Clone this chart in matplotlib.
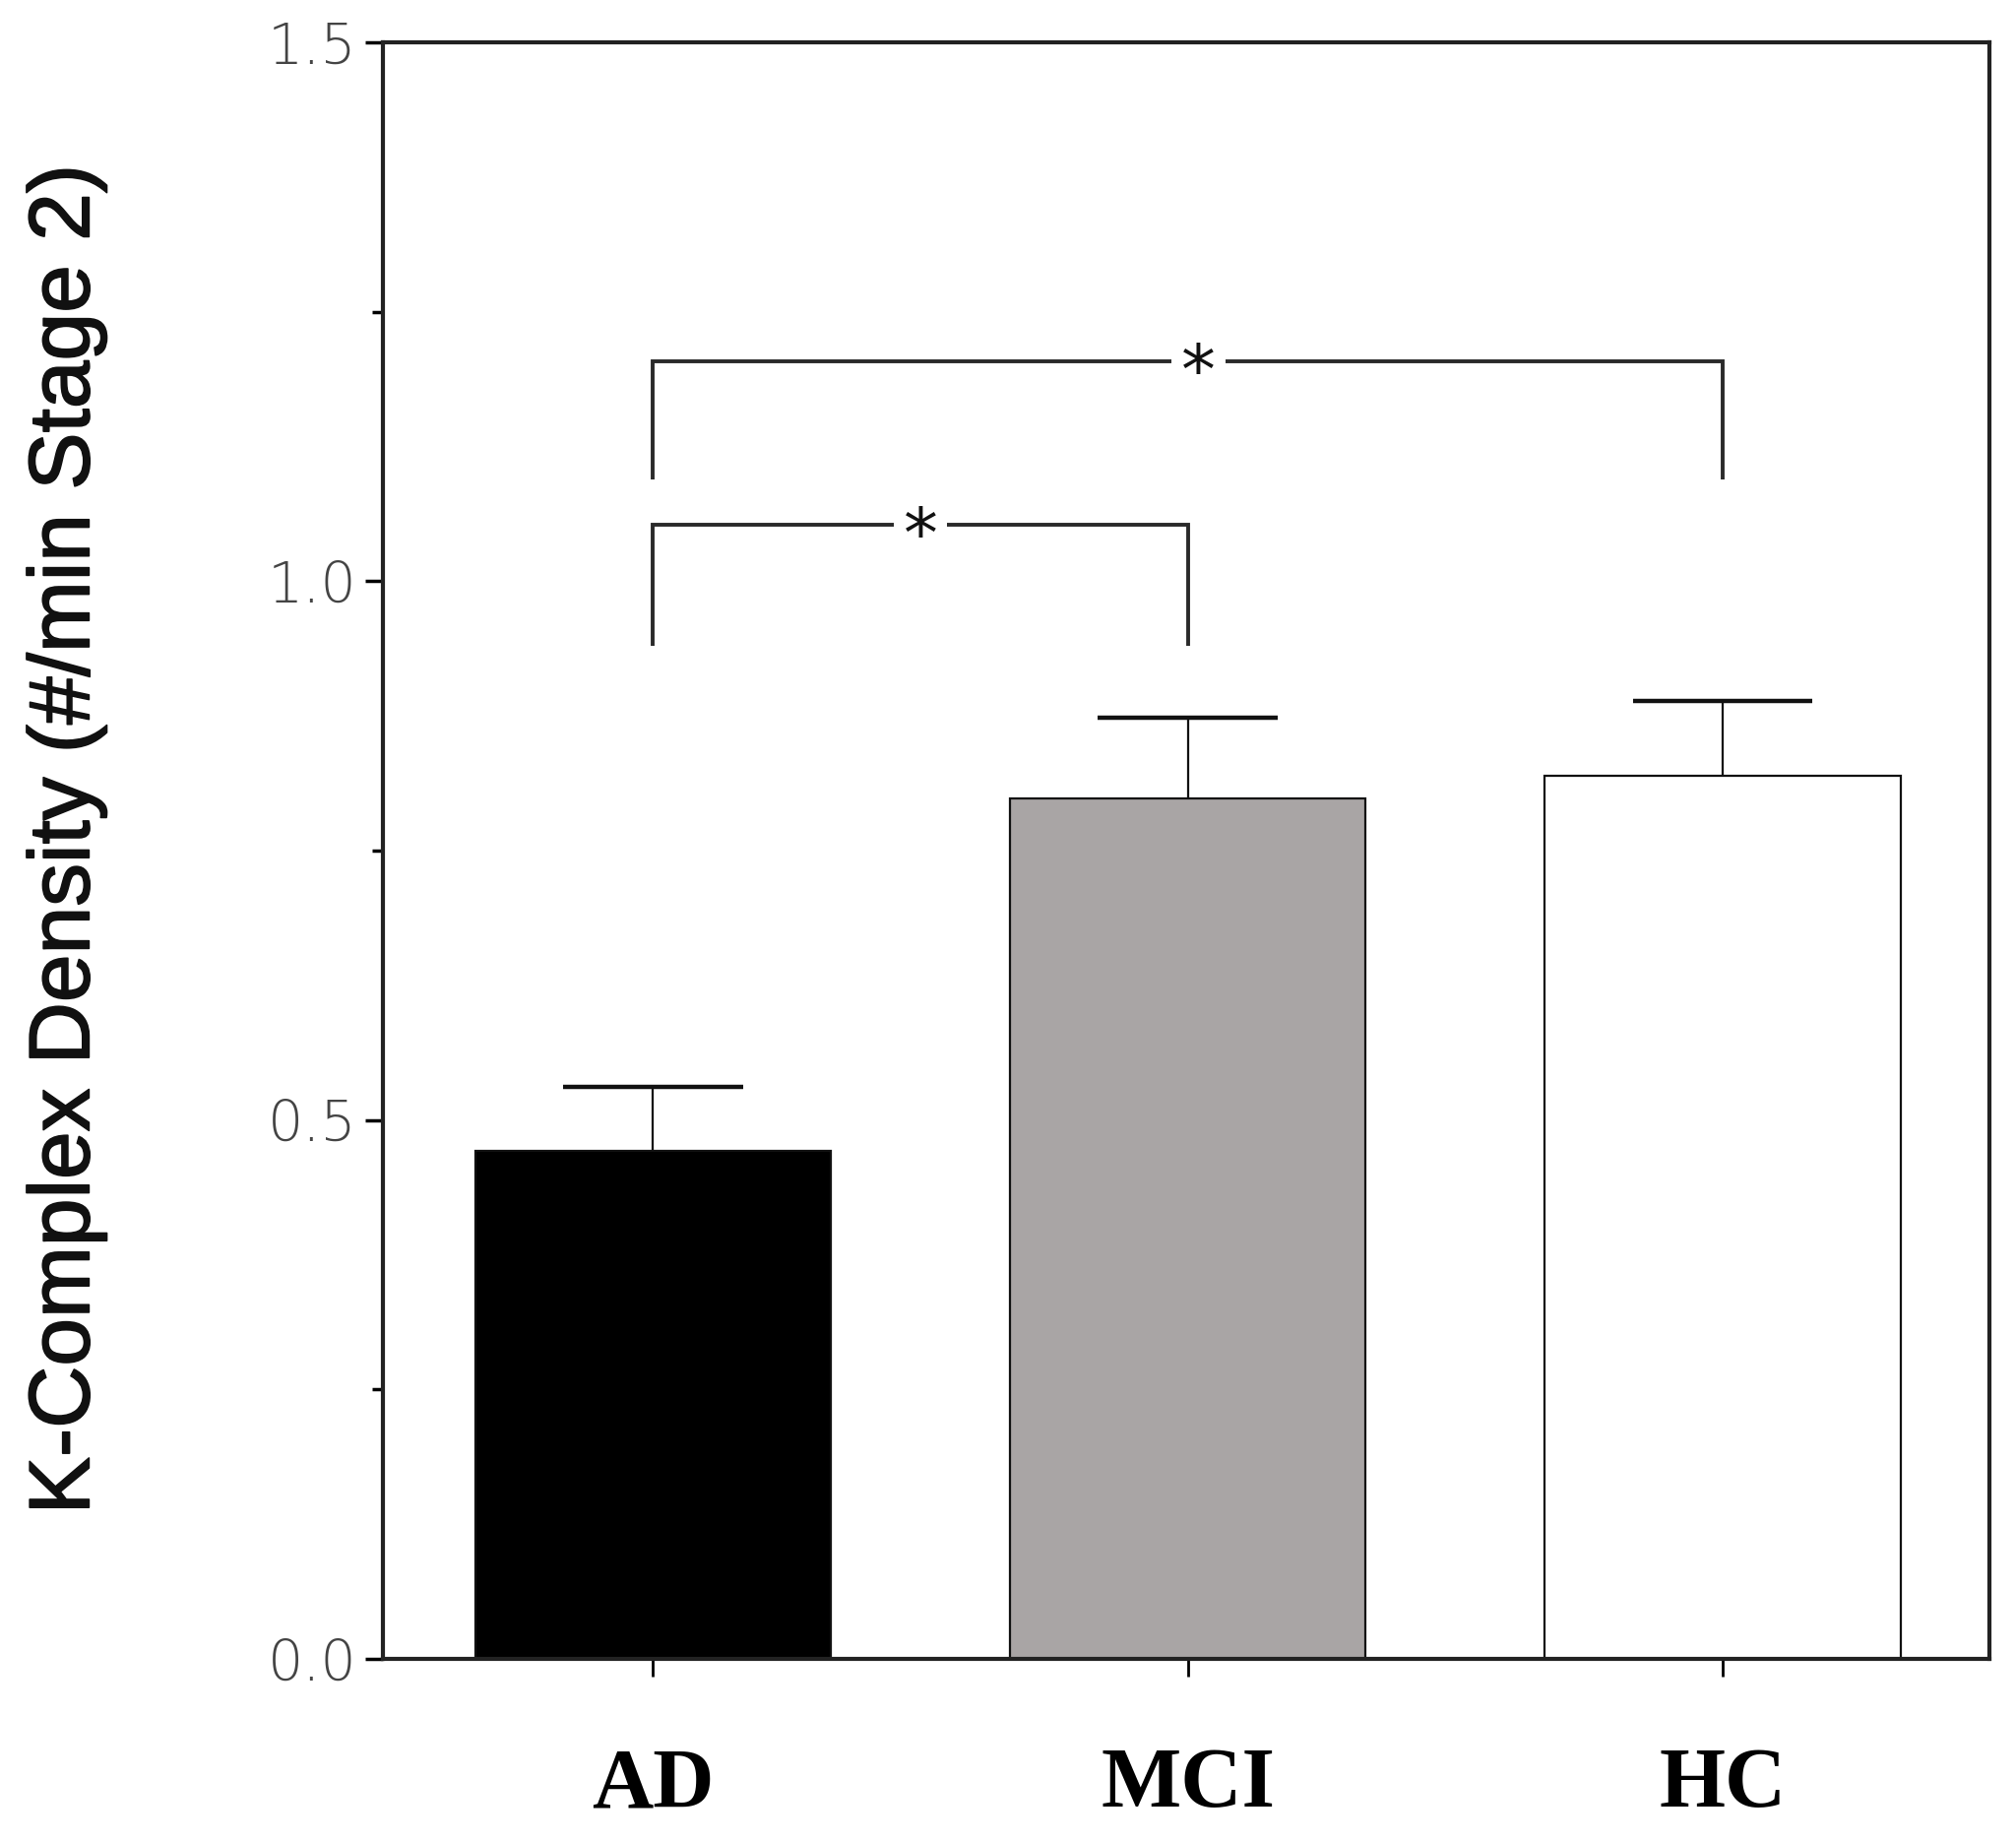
import matplotlib
matplotlib.use("Agg")
import matplotlib.pyplot as plt
import matplotlib.patheffects as pe
import numpy as np

# data
groups = ['AD', 'MCI', 'HC']
means = [0.471, 0.798, 0.819]
sem = [0.060, 0.075, 0.070]
bar_colors = ['#000000', '#a9a5a5', '#ffffff']

# significance brackets: (left group, right group, bracket top, leg bottom, star x offset)
brackets = [(0, 1, 1.052, 0.940, 0.0), (0, 2, 1.204, 1.094, 0.02)]
star_gap = 0.10
cap_half = 0.168

fig = plt.figure(figsize=(20.48, 18.71), dpi=100)
ax = fig.add_axes([0.190, 0.0994, 0.797, 0.8776])

x = np.arange(len(groups))
means = np.array(means)
tops = means + np.array(sem)
ax.bar(x, means, width=0.666, color=bar_colors, edgecolor='#111111', linewidth=1.6, zorder=2)
# one-sided (upper) error bars
ax.vlines(x, means, tops, color='#111111', linewidth=1.6, zorder=3)
ax.hlines(tops, x - cap_half, x + cap_half, color='#111111', linewidth=3.2, zorder=3)

for g1, g2, top, leg, off in brackets:
    xm = (x[g1] + x[g2]) / 2 + off
    kw = dict(color='#2a2a2a', linewidth=2.8, solid_capstyle='butt', solid_joinstyle='miter')
    ax.plot([x[g1], x[g1], xm - star_gap / 2], [leg, top, top], **kw)
    ax.plot([xm + star_gap / 2, x[g2], x[g2]], [top, top, leg], **kw)
    ax.text(xm, top - 0.012, '*', ha='center', va='center', fontsize=50,
            family='DejaVu Sans', color='#111111')

ax.set_xlim(-0.505, 2.5)
ax.set_ylim(0, 1.5)
ax.set_yticks([0.0, 0.5, 1.0, 1.5])
ax.set_yticklabels(['0.0', '0.5', '1.0', '1.5'])
ax.set_yticks([0.25, 0.75, 1.25], minor=True)
ax.set_xticks(x)
ax.set_xticklabels(groups, family='Liberation Serif', fontweight='bold', fontsize=62)

ax.tick_params(axis='y', which='major', direction='out', length=13, width=2.5,
               labelsize=41, labelcolor='#444444', pad=6, right=False)
ax.tick_params(axis='y', which='minor', direction='out', length=8, width=2.5, right=False)
ax.tick_params(axis='x', which='major', direction='out', length=13, width=2, pad=52,
               top=False)
for lab in ax.get_yticklabels():
    lab.set_family('DejaVu Sans')
    lab.set_fontweight('light')

for side in ['left', 'right', 'top', 'bottom']:
    ax.spines[side].set_linewidth(3)
    ax.spines[side].set_color('#222222')

ylab = ax.set_ylabel('K-Complex Density (#/min Stage 2)', family='Liberation Sans',
                     fontsize=63, color='#111111')
ylab.set_path_effects([pe.withStroke(linewidth=1.2, foreground='#111111')])
ax.yaxis.set_label_coords(-0.172, 0.507)

fig.savefig('out.png', dpi=100, facecolor='white')
